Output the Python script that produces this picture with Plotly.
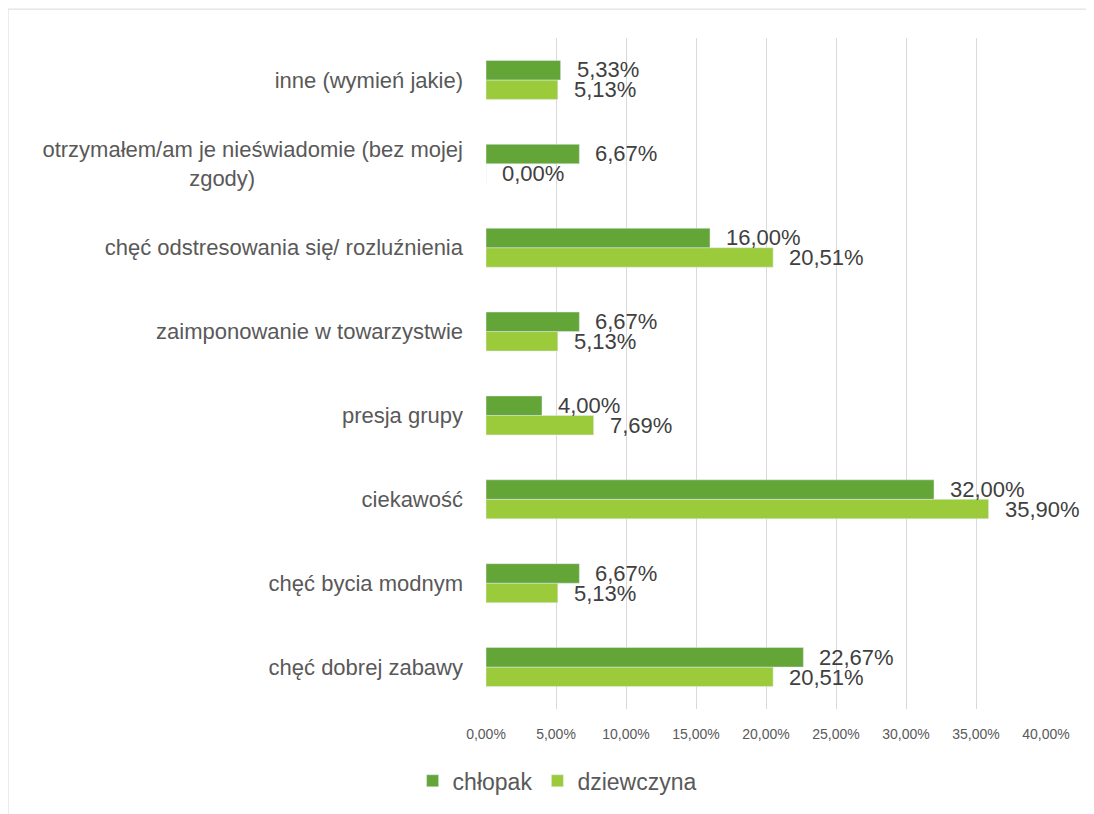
import plotly.graph_objects as go

categories = [
    "chęć dobrej zabawy",
    "chęć bycia modnym",
    "ciekawość",
    "presja grupy",
    "zaimponowanie w towarzystwie",
    "chęć odstresowania się/ rozluźnienia",
    "otrzymałem/am je nieświadomie (bez mojej<br>zgody)" + "\u00a0" * 34,
    "inne (wymień jakie)",
]
chlopak = [22.67, 6.67, 32.00, 4.00, 6.67, 16.00, 6.67, 5.33]
dziewczyna = [20.51, 5.13, 35.90, 7.69, 5.13, 20.51, 0.00, 5.13]
x_ticks = [0, 5, 10, 15, 20, 25, 30, 35, 40]
x_tick_text = [f"{t:.2f}%".replace(".", ",") for t in x_ticks]

DARK = "#63a537"
LIGHT = "#9bcb3b"
FONT = "Liberation Sans"

# plot area in figure pixels (page body adds an 8px margin)
W, H = 1086, 806
L, R, T, B = 478, 48, 30, 102
PW, PH = W - L - R, H - T - B

fig = go.Figure()

# light bars first so that the dark ones sit on top within each group
fig.add_trace(go.Bar(
    y=categories, x=dziewczyna, orientation="h", name="dziewczyna",
    marker_color=LIGHT, legendrank=2,
))
fig.add_trace(go.Bar(
    y=categories, x=chlopak, orientation="h", name="chłopak",
    marker_color=DARK, legendrank=1,
))

# value labels
for cat, v in zip(categories, chlopak):
    fig.add_annotation(x=v, y=cat, text=f"{v:.2f}%".replace(".", ","),
                       xanchor="left", yanchor="middle", xshift=14, yshift=10,
                       showarrow=False, font=dict(size=22, color="#404040"))
for cat, v in zip(categories, dziewczyna):
    fig.add_annotation(x=v, y=cat, text=f"{v:.2f}%".replace(".", ","),
                       xanchor="left", yanchor="middle", xshift=14, yshift=-10,
                       showarrow=False, font=dict(size=22, color="#404040"))

# outer chart border (left and top edges visible)
fig.add_shape(type="rect", xref="paper", yref="paper",
              x0=(0 - L) / PW, x1=1.3, y0=-0.3, y1=(PH + T - 1) / PH,
              line=dict(color="#d9d9d9", width=1), fillcolor="rgba(0,0,0,0)",
              layer="below")

fig.update_layout(
    width=W, height=H,
    margin=dict(l=L, r=R, t=T, b=B),
    plot_bgcolor="white", paper_bgcolor="white",
    font=dict(family=FONT, color="#404040"),
    barmode="group", bargap=0.535, bargroupgap=0,
    showlegend=True,
    legend=dict(orientation="h", x=0.127, xanchor="center", y=-0.107,
                yanchor="middle", font=dict(size=23, color="#595959"),
                itemwidth=30, tracegroupgap=0),
    xaxis=dict(range=[0, 40], tickvals=x_ticks, ticktext=x_tick_text,
               showgrid=True, gridcolor="#d9d9d9", gridwidth=1,
               zeroline=False, showline=False,
               tickfont=dict(size=14, color="#595959"),
               ticklabelstandoff=15, fixedrange=True),
    yaxis=dict(categoryorder="array", categoryarray=categories,
               showgrid=False, zeroline=False, showline=False,
               tickfont=dict(size=22, color="#595959"),
               ticklabelstandoff=22),
)

fig.write_html("out.html")
